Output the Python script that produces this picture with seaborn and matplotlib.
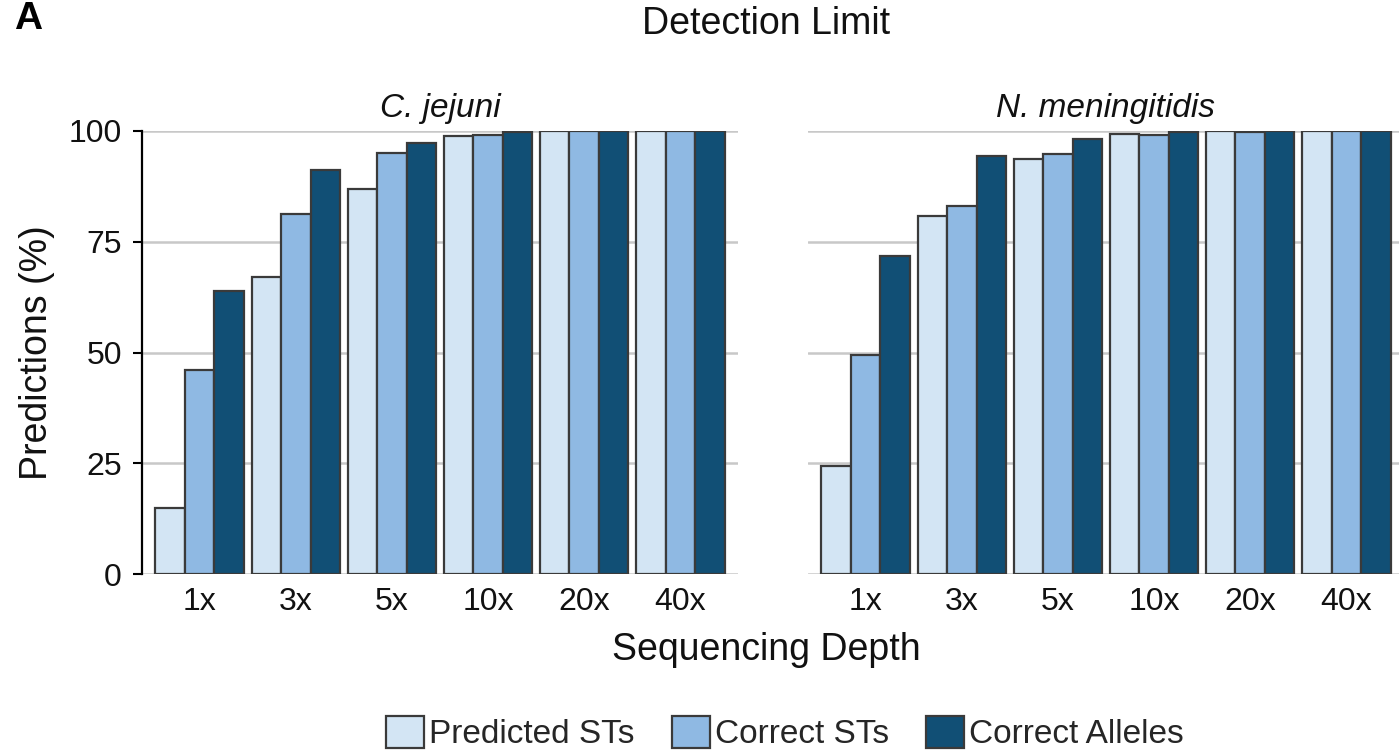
import matplotlib
matplotlib.use("Agg")
import matplotlib.pyplot as plt
from matplotlib.patches import Patch
import seaborn as sns
import pandas as pd

depths = ["1x", "3x", "5x", "10x", "20x", "40x"]
metrics = ["Predicted STs", "Correct STs", "Correct Alleles"]
species = ["C. jejuni", "N. meningitidis"]

cj_predicted = [15.0, 67.1, 86.8, 98.9, 100.0, 100.0]
cj_correct_st = [46.0, 81.3, 95.0, 99.2, 100.0, 100.0]
cj_alleles = [63.9, 91.1, 97.2, 99.7, 100.0, 100.0]

nm_predicted = [24.3, 80.8, 93.6, 99.3, 100.0, 100.0]
nm_correct_st = [49.4, 83.1, 94.7, 99.1, 99.7, 100.0]
nm_alleles = [71.8, 94.4, 98.3, 99.7, 100.0, 100.0]

colors = ["#d3e5f4", "#8fb9e3", "#114f75"]

sns.set_theme(style="white")
plt.rcParams["font.family"] = ["Liberation Sans", "DejaVu Sans"]

rows = []
for sp, vals in zip(species, [(cj_predicted, cj_correct_st, cj_alleles),
                              (nm_predicted, nm_correct_st, nm_alleles)]):
    for m, series in zip(metrics, vals):
        for d, v in zip(depths, series):
            rows.append({"species": sp, "metric": m, "depth": d, "value": v})
df = pd.DataFrame(rows)

W, H = 1399, 754
fig = plt.figure(figsize=(W / 100, H / 100), dpi=100)
ax_w = 596 / W
ax_h = (574 - 131) / H
ax_b = (H - 574) / H
axes = [fig.add_axes([142 / W, ax_b, ax_w, ax_h]),
        fig.add_axes([808 / W, ax_b, ax_w, ax_h])]

for ax, sp in zip(axes, species):
    sub = df[df["species"] == sp]
    sns.barplot(data=sub, x="depth", y="value", hue="metric", order=depths,
                hue_order=metrics, palette=colors, saturation=1, width=0.92, ax=ax,
                edgecolor="#3a3a3a", linewidth=1.6, legend=False, errorbar=None,
                zorder=3)
    ax.set_xlim(-0.6, 5.6)
    ax.set_ylim(0, 100)
    ax.set_yticks([0, 25, 50, 75, 100])
    ax.yaxis.grid(True, color="#c8c8c8", linewidth=1.8, zorder=0)
    ax.set_axisbelow(True)
    for s in ["top", "right", "bottom"]:
        ax.spines[s].set_visible(False)
    ax.set_xlabel("")
    ax.set_ylabel("")
    ax.tick_params(axis="x", length=0, labelsize=23, pad=9, colors="#111111")
    ax.set_title(sp, fontsize=24, style="italic", pad=10, color="#111111")

axes[0].spines["left"].set_color("black")
axes[0].spines["left"].set_linewidth(1.6)
axes[0].tick_params(axis="y", length=6.5, width=1.5, color="black",
                    labelsize=23, pad=8, left=True, labelcolor="#111111")
axes[0].set_ylabel("Predictions (%)", fontsize=27, labelpad=10, color="#111111")
axes[1].spines["left"].set_visible(False)
axes[1].tick_params(axis="y", length=0, labelleft=False)

fig.text(766 / W, 1 - 650 / H, "Sequencing Depth", ha="center", va="center",
         fontsize=27, color="#111111")
fig.text(766 / W, 1 - 24 / H, "Detection Limit", ha="center", va="center",
         fontsize=27, color="#111111")
fig.text(14 / W, 1 - 1 / H, "A", ha="left", va="top", fontsize=28,
         fontweight="bold", color="black")

handles = [Patch(facecolor=c, edgecolor="#3a3a3a", linewidth=1.6) for c in colors]
fig.legend(handles, metrics, loc="center", bbox_to_anchor=(785 / W, 1 - 733 / H),
           ncol=3, frameon=False, fontsize=24, handlelength=1.15,
           handleheight=1.1, handletextpad=0.15, columnspacing=1.1,
           borderaxespad=0, borderpad=0)

fig.savefig("out.png", dpi=100)
